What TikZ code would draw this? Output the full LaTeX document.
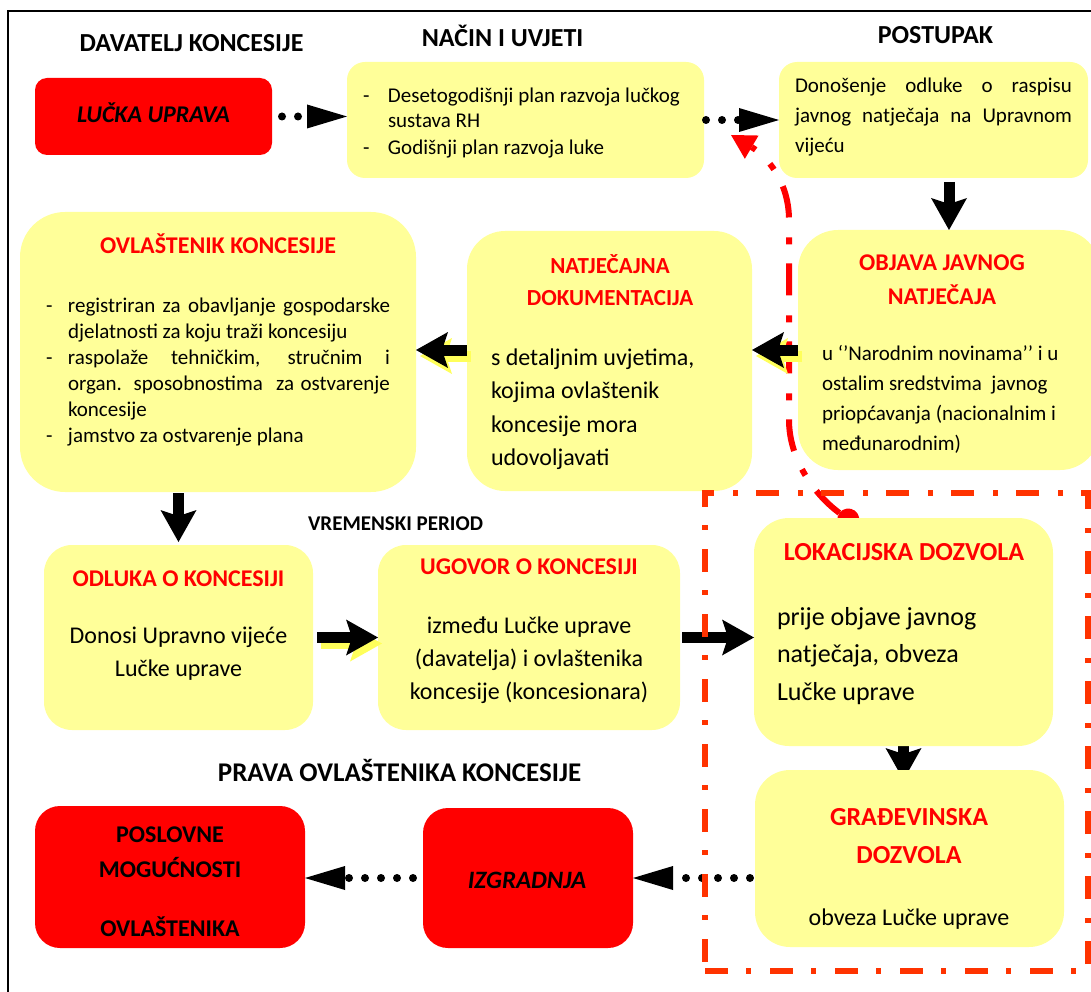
\documentclass[tikz,border=0pt]{standalone}
\usepackage{fontspec}
\setmainfont{Carlito}
\usetikzlibrary{arrows.meta,calc,backgrounds}
\definecolor{boxyellow}{RGB}{255,255,153}
\definecolor{boxred}{RGB}{255,0,0}
\definecolor{titlered}{RGB}{255,0,0}
\definecolor{zonered}{RGB}{255,51,0}
\definecolor{shadowyellow}{RGB}{255,255,90}
\newcommand{\fsz}[2]{\fontsize{#1}{#2}\selectfont}
\begin{document}
\begin{tikzpicture}[x=1pt,y={(0pt,-1pt)},
  ybox/.style={fill=boxyellow,draw=none,rounded corners=#1,inner sep=0pt,outer sep=0pt},
  rbox/.style={fill=boxred,draw=none,rounded corners=#1,inner sep=0pt,outer sep=0pt},
  hd/.style={font=\bfseries\fsz{26}{31},inner sep=0pt,outer sep=0pt,anchor=base},
  ttl/.style={text=titlered,inner sep=0pt,outer sep=0pt,align=center,anchor=base},
  txt/.style={inner sep=0pt,outer sep=0pt},
  blockarr/.style={line width=11pt,black,-{Stealth[length=32pt,width=36pt,inset=6pt,line width=0pt]}},
  shadowarr/.style={blockarr,draw=shadowyellow,-{Stealth[length=32pt,width=36pt,inset=6pt,line width=0pt,fill=shadowyellow]}},
  dotarr/.style={line width=8pt,black,dash pattern=on 0pt off 16pt,line cap=round,-{Triangle[length=40pt,width=24pt,line width=0pt]}},
  redcurve/.style={line width=6pt,red,dash pattern=on 32pt off 19pt on 7pt off 20pt,{Circle[length=22pt,line width=0pt]}-{Triangle[length=24pt,width=27pt,line width=0pt]}},
  zone/.style={draw=zonered,line width=5.5pt,dash pattern=on 23pt off 18pt on 5pt off 19pt,inner sep=0pt,outer sep=0pt}
]
\useasboundingbox (0,0) rectangle (1091,992);
\draw[line width=1.8pt] (8,992) -- (8,11) -- (1091,11);

% boxes
\node[rbox=12pt,minimum width=237pt,minimum height=77pt] (lucka) at (153.5,116.5) {};
\node[ybox=18pt,minimum width=357pt,minimum height=116pt] (nacin) at (525.5,120) {};
\node[ybox=18pt,minimum width=309pt,minimum height=116pt] (postupak) at (933.5,120) {};
\node[ybox=40pt,minimum width=302pt,minimum height=240pt] (objava) at (949,350) {};
\node[ybox=38pt,minimum width=285pt,minimum height=260pt] (natj) at (609.5,361) {};
\node[ybox=45pt,minimum width=396pt,minimum height=280pt] (ovl) at (218,352) {};
\node[ybox=28pt,minimum width=269pt,minimum height=185pt] (odluka) at (178.5,637.5) {};
\node[ybox=28pt,minimum width=302pt,minimum height=185pt] (ugovor) at (529,637.5) {};
\node[ybox=35pt,minimum width=299pt,minimum height=228pt] (lok) at (903.5,632) {};
\node[ybox=35pt,minimum width=309pt,minimum height=177pt] (grad) at (909.5,858.5) {};
\node[rbox=25pt,minimum width=210pt,minimum height=140pt] (izgr) at (528,878) {};
\node[rbox=25pt,minimum width=270pt,minimum height=142pt] (posl) at (170,877) {};

% connectors below boxes
\begin{scope}[on background layer]
  \coordinate (cstart) at ($(lok.north west)!0.345!(lok.north east)+(0,8)$);
  \coordinate (ctip) at (731,135);
  \draw[redcurve] (cstart) .. controls (815,495) and (789,460) .. (789,420) -- (789,220) .. controls (789,180) and (765,155) .. (ctip);
  \draw[blockarr,shorten >=-10pt] (lok.south) -- (lok.south |- grad.north);
\end{scope}

% connectors
\draw[dotarr,shorten <=10pt] (lucka.east) -- (lucka.east -| nacin.west);
\draw[dotarr,shorten <=2pt] (nacin.east) -- (postupak.west);
\draw[blockarr,shorten <=4pt] (postupak.south -| objava.north) -- (objava.north);
\draw[shadowarr] ($(objava.west)+(4,6)$) -- ($(objava.west -| natj.east)+(4,6)$);
\draw[blockarr] (objava.west) -- (objava.west -| natj.east);
\draw[shadowarr] ($(natj.west |- objava.west)+(4,6)$) -- ($(ovl.east |- objava.west)+(4,6)$);
\draw[blockarr] (natj.west |- objava.west) -- (ovl.east |- objava.west);
\draw[blockarr,shorten <=1pt,shorten >=3pt] (ovl.south -| odluka.north) -- (odluka.north);
\draw[shadowarr,shorten <=4pt] ($(odluka.east)+(4,6)$) -- ($(ugovor.west)+(4,6)$);
\draw[blockarr,shorten <=4pt] (odluka.east) -- (ugovor.west);
\draw[blockarr,shorten <=2pt] (ugovor.east) -- (ugovor.east -| lok.west);
\draw[dotarr,shorten <=5pt] (grad.west |- izgr.east) -- (izgr.east);
\draw[dotarr,shorten <=10pt] (izgr.west) -- (izgr.west -| posl.east);

% dash-dot zone
\node[zone,minimum width=383pt,minimum height=478pt] (zone) at (896.5,732) {};

% headings
\node[hd] (hdav) at (191.5,52) {DAVATELJ KONCESIJE};
\node[hd] (hnac) at (502.5,47) {NAČIN I UVJETI};
\node[hd] (hpos) at (935.5,44) {POSTUPAK};
\node[hd,font=\bfseries\fsz{21}{25}] (hvrem) at (395.5,530) {VREMENSKI PERIOD};
\node[hd,font=\bfseries\fsz{27}{32}] (hprava) at (399.5,781) {PRAVA OVLAŠTENIKA KONCESIJE};

% texts (multi-line nodes: base = baseline of last line)
\node[txt,anchor=base,font=\bfseries\itshape\fsz{24}{29}] (tlucka) at (153.5,123) {LUČKA UPRAVA};
\node[txt,anchor=base west,align=left,font=\fsz{21}{25}] (tnacin) at (363,155)
  {\makebox[25pt][l]{-}Desetogodišnji plan razvoja lučkog\\\hspace*{25pt}sustava RH\\[2pt]\makebox[25pt][l]{-}Godišnji plan razvoja luke};
\node[txt,anchor=base west,align=left,font=\fsz{21}{30}] (tpost) at (795,153)
  {\makebox[277pt][s]{Donošenje odluke o raspisu}\\\makebox[277pt][s]{javnog natječaja na Upravnom}\\vijeću};

\node[ttl,font=\bfseries\fsz{24}{34}] (tobj) at (942,304) {OBJAVA JAVNOG\\NATJEČAJA};
\node[txt,anchor=base west,align=left,font=\fsz{21}{30}] (bobj) at (822,450)
  {u ‘’Narodnim novinama’’ i u\\ostalim sredstvima\ \ javnog\\priopćavanja (nacionalnim i\\međunarodnim)};

\node[ttl,font=\bfseries\fsz{23}{32}] (tnatj) at (610,305) {NATJEČAJNA\\DOKUMENTACIJA};
\node[txt,anchor=base west,align=left,font=\fsz{24}{33.5}] (bnatj) at (491,465.5)
  {s detaljnim uvjetima,\\kojima ovlaštenik\\koncesije mora\\udovoljavati};

\node[ttl,font=\bfseries\fsz{24}{29}] (tovl) at (218,253) {OVLAŠTENIK KONCESIJE};
\node[txt,anchor=base west,align=left,font=\fsz{21}{26}] (bovl) at (46,442)
  {\makebox[22pt][l]{-}\makebox[322pt][s]{registriran za obavljanje gospodarske}\\
   \hspace*{22pt}djelatnosti za koju traži koncesiju\\
   \makebox[22pt][l]{-}\makebox[322pt][s]{raspolaže tehničkim, stručnim i}\\
   \hspace*{22pt}\makebox[322pt][s]{organ. sposobnostima\ \ za ostvarenje}\\
   \hspace*{22pt}koncesije\\
   \makebox[22pt][l]{-}jamstvo za ostvarenje plana};

\node[ttl,font=\bfseries\fsz{24}{29}] (todl) at (178.5,586) {ODLUKA O KONCESIJI};
\node[txt,anchor=base,align=center,font=\fsz{24}{33}] (bodl) at (178.5,676) {Donosi Upravno vijeće\\Lučke uprave};

\node[ttl,font=\bfseries\fsz{24}{29}] (tugo) at (529,574) {UGOVOR O KONCESIJI};
\node[txt,anchor=base,align=center,font=\fsz{24}{33}] (bugo) at (529,699) {između Lučke uprave\\(davatelja) i ovlaštenika\\koncesije (koncesionara)};

\node[ttl,font=\bfseries\fsz{26}{31}] (tlok) at (904,560) {LOKACIJSKA DOZVOLA};
\node[txt,anchor=base west,align=left,font=\fsz{26}{37.5}] (blok) at (777,700) {prije objave javnog\\natječaja, obveza\\Lučke uprave};

\node[ttl,font=\bfseries\fsz{26}{38}] (tgrad) at (909,863) {GRAĐEVINSKA\\DOZVOLA};
\node[txt,anchor=base,font=\fsz{24}{29}] (bgrad) at (909,925) {obveza Lučke uprave};

\node[txt,anchor=base,font=\bfseries\itshape\fsz{25}{30}] (tizgr) at (527,888) {IZGRADNJA};
\node[txt,anchor=base,align=center,font=\bfseries\fsz{24}{35}] (tposl) at (170,936) {POSLOVNE\\MOGUĆNOSTI\\[24pt]OVLAŠTENIKA};
\end{tikzpicture}
\end{document}
